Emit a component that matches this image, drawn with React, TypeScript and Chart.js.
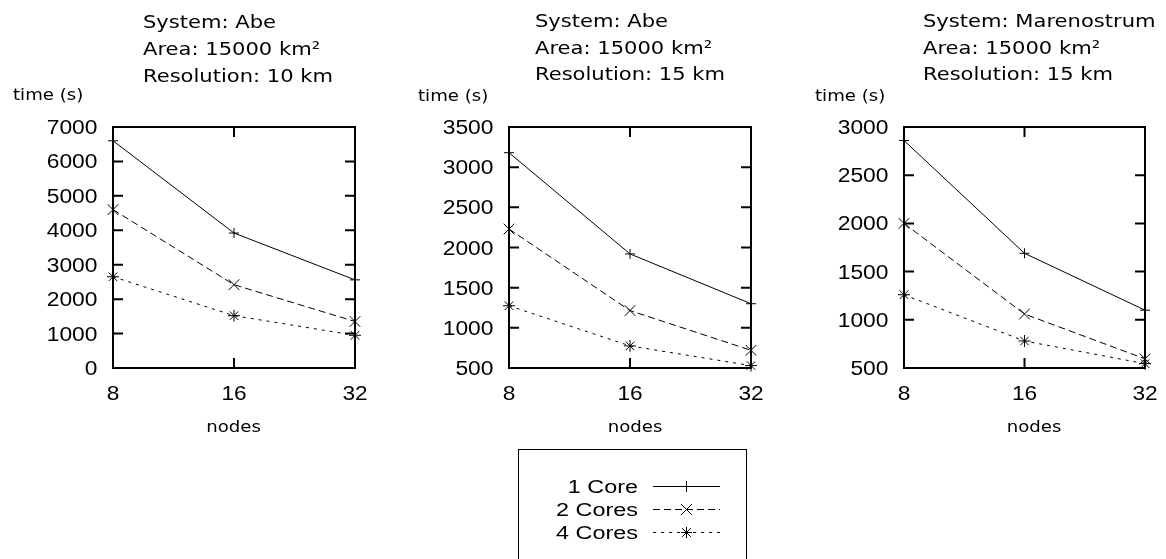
import React, { useEffect, useRef } from 'react';
import { Chart, registerables } from 'chart.js';

Chart.register(...registerables);

// ---------- data ----------
const nodes = ['8', '16', '32'];
const seriesLabels = ['1 Core', '2 Cores', '4 Cores'];

const abe10Core1 = [6600, 3920, 2560];
const abe10Core2 = [4600, 2420, 1350];
const abe10Core4 = [2650, 1520, 950];

const abe15Core1 = [3180, 1920, 1300];
const abe15Core2 = [2230, 1215, 720];
const abe15Core4 = [1275, 775, 530];

const mare15Core1 = [2860, 1690, 1100];
const mare15Core2 = [2000, 1060, 595];
const mare15Core4 = [1260, 780, 545];

const titleAbe10 = ['System: Abe', 'Area: 15000 km²', 'Resolution: 10 km'];
const titleAbe15 = ['System: Abe', 'Area: 15000 km²', 'Resolution: 15 km'];
const titleMare15 = ['System: Marenostrum', 'Area: 15000 km²', 'Resolution: 15 km'];

const yAxisTitle = 'time (s)';
const xAxisTitle = 'nodes';

// ---------- styles ----------
const pointStyles = ['cross', 'crossRot', 'star'];
const pointRadii = [5, 7.5, 6];
const dashes: number[][] = [[], [7, 4], [3, 5]];

const SX = 1.17; // horizontal text stretch seen in the reference

const panels = [
  {
    title: titleAbe10,
    series: [abe10Core1, abe10Core2, abe10Core4],
    yMin: 0, yMax: 7000, yStep: 1000,
    left: 113, right: 355,
    titleX: 143, titleY: [28, 55, 81.5],
    yTitleX: 13, yTitleY: 100,
    xTitleX: 233.5, xTitleY: 432,
    legend: false,
  },
  {
    title: titleAbe15,
    series: [abe15Core1, abe15Core2, abe15Core4],
    yMin: 500, yMax: 3500, yStep: 500,
    left: 509, right: 751,
    titleX: 535, titleY: [27, 53.5, 80],
    yTitleX: 418, yTitleY: 101,
    xTitleX: 635, xTitleY: 432,
    legend: true,
  },
  {
    title: titleMare15,
    series: [mare15Core1, mare15Core2, mare15Core4],
    yMin: 500, yMax: 3000, yStep: 500,
    left: 904, right: 1145,
    titleX: 923, titleY: [27, 53.5, 80],
    yTitleX: 815, yTitleY: 101,
    xTitleX: 1034, xTitleY: 432,
    legend: false,
  },
];

const W = 1166;
const H = 559;
const AREA_TOP = 127;
const AREA_BOTTOM = 368;
const Y_AXIS_W = 100;
const X_AXIS_H = 40;
const Y_TICK_FONT = '19.5px "Liberation Sans", Arial, sans-serif';
const X_TICK_FONT = '21px "Liberation Sans", Arial, sans-serif';

function stretchedText(
  ctx: CanvasRenderingContext2D,
  text: string,
  x: number,
  y: number,
  font: string,
  align: 'left' | 'right' | 'center',
  sx: number
) {
  ctx.save();
  ctx.font = font;
  ctx.textBaseline = 'alphabetic';
  ctx.textAlign = 'left';
  ctx.fillStyle = '#000';
  const w = ctx.measureText(text).width * sx;
  const left = align === 'left' ? x : align === 'right' ? x - w : x - w / 2;
  ctx.translate(left, y);
  ctx.scale(sx, 1);
  ctx.fillText(text, 0, 0);
  ctx.restore();
}

function drawMarker(ctx: CanvasRenderingContext2D, style: string, x: number, y: number, r: number) {
  ctx.beginPath();
  if (style === 'cross' || style === 'star') {
    ctx.moveTo(x - r, y);
    ctx.lineTo(x + r, y);
    ctx.moveTo(x, y - r);
    ctx.lineTo(x, y + r);
  }
  if (style === 'crossRot' || style === 'star') {
    const d = style === 'star' ? r * 0.8 : r;
    ctx.moveTo(x - d, y - d);
    ctx.lineTo(x + d, y + d);
    ctx.moveTo(x - d, y + d);
    ctx.lineTo(x + d, y - d);
  }
  ctx.stroke();
}

function Panel({ p }: { p: (typeof panels)[number] }) {
  const ref = useRef<HTMLCanvasElement>(null);

  useEffect(() => {
    if (!ref.current) return;

    const framePlugin = {
      id: 'frameTicks',
      beforeDatasetsDraw(chart: any) {
        const { ctx, chartArea: a, scales } = chart;
        const ys = scales.y;
        const xs = scales.x;
        ctx.save();
        ctx.strokeStyle = '#000';
        ctx.lineWidth = 2;
        ctx.beginPath();
        ys.ticks.forEach((_t: any, i: number) => {
          const y = ys.getPixelForTick(i);
          ctx.moveTo(a.left, y);
          ctx.lineTo(a.left + 10, y);
          ctx.moveTo(a.right, y);
          ctx.lineTo(a.right - 10, y);
        });
        xs.ticks.forEach((_t: any, i: number) => {
          const x = xs.getPixelForTick(i);
          ctx.moveTo(x, a.bottom);
          ctx.lineTo(x, a.bottom - 10);
          ctx.moveTo(x, a.top);
          ctx.lineTo(x, a.top + 10);
        });
        ctx.stroke();
        ctx.strokeRect(a.left, a.top, a.right - a.left, a.bottom - a.top);
        ctx.restore();

        // tick labels, taken from the library's own scale ticks
        ys.ticks.forEach((t: any, i: number) => {
          const y = ys.getPixelForTick(i);
          stretchedText(ctx, String(t.value), a.left - 15.5, y + 7, Y_TICK_FONT, 'right', SX);
        });
        xs.ticks.forEach((_t: any, i: number) => {
          const x = xs.getPixelForTick(i);
          stretchedText(ctx, String(xs.getLabelForValue(i)), x, 399.5, X_TICK_FONT, 'center', 1.08);
        });
      },
    };

    const textPlugin = {
      id: 'panelText',
      afterDraw(chart: any) {
        const ctx: CanvasRenderingContext2D = chart.ctx;
        const titleFont = '18px "DejaVu Sans"';
        p.title.forEach((line, i) => {
          stretchedText(ctx, line, p.titleX, p.titleY[i], titleFont, 'left', SX);
        });
        const axisFont = '15.5px "DejaVu Sans"';
        stretchedText(ctx, yAxisTitle, p.yTitleX, p.yTitleY, axisFont, 'left', SX);
        stretchedText(ctx, xAxisTitle, p.xTitleX, p.xTitleY, axisFont, 'center', SX);

        if (p.legend) {
          ctx.save();
          ctx.strokeStyle = '#000';
          ctx.lineWidth = 1;
          ctx.strokeRect(518.5, 449.5, 228, 130);
          const rowsY = [486.5, 509.5, 532.5];
          chart.data.datasets.forEach((ds: any, i: number) => {
            const cy = rowsY[i];
            stretchedText(ctx, ds.label, 638, cy + 6.5, '18px "Liberation Sans"', 'right', 1.3);
            ctx.save();
            ctx.strokeStyle = '#000';
            ctx.lineWidth = 1;
            ctx.setLineDash(ds.borderDash || []);
            ctx.beginPath();
            ctx.moveTo(653, cy);
            ctx.lineTo(720, cy);
            ctx.stroke();
            ctx.setLineDash([]);
            drawMarker(ctx, ds.pointStyle, 686.5, cy, 5.5);
            ctx.restore();
          });
          ctx.restore();
        }
      },
    };

    const chart = new Chart(ref.current, {
      type: 'line',
      data: {
        labels: nodes,
        datasets: p.series.map((values, i) => ({
          label: seriesLabels[i],
          data: values,
          borderColor: '#000',
          borderWidth: 1,
          borderDash: dashes[i],
          pointStyle: pointStyles[i] as any,
          pointRadius: pointRadii[i],
          pointBorderColor: '#000',
          pointBackgroundColor: 'transparent',
          pointBorderWidth: 1,
          tension: 0,
          fill: false,
          clip: false as any,
        })),
      },
      options: {
        responsive: false,
        animation: false,
        events: [],
        layout: {
          padding: {
            left: p.left - Y_AXIS_W,
            right: W - p.right,
            top: AREA_TOP,
            bottom: H - AREA_BOTTOM - X_AXIS_H,
          },
        },
        plugins: {
          legend: { display: false },
          tooltip: { enabled: false },
          title: { display: false },
        },
        scales: {
          x: {
            type: 'category',
            offset: false,
            grid: { display: false },
            border: { display: false },
            ticks: { display: false },
            afterFit: (s: any) => {
              s.height = X_AXIS_H;
            },
          },
          y: {
            type: 'linear',
            min: p.yMin,
            max: p.yMax,
            grid: { display: false },
            border: { display: false },
            ticks: {
              display: false,
              stepSize: p.yStep,
            },
            afterFit: (s: any) => {
              s.width = Y_AXIS_W;
            },
          },
        },
      },
      plugins: [framePlugin, textPlugin],
    });

    return () => chart.destroy();
  }, []);

  return (
    <canvas
      ref={ref}
      width={W}
      height={H}
      style={{ position: 'absolute', left: 0, top: 0, width: W, height: H, pointerEvents: 'none' }}
    />
  );
}

export default function App() {
  return (
    <div style={{ position: 'absolute', left: 0, top: 0, width: W, height: H, background: '#fff', overflow: 'hidden' }}>
      {panels.map((p, i) => (
        <Panel key={i} p={p} />
      ))}
    </div>
  );
}
